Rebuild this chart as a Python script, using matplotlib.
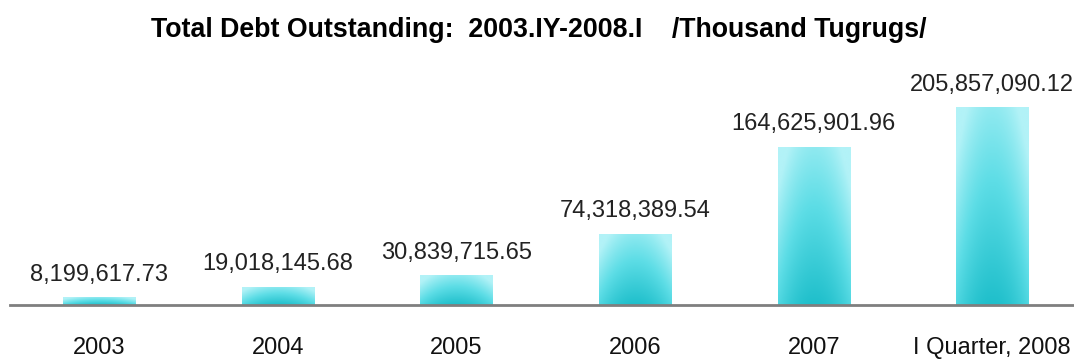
import matplotlib

matplotlib.use("Agg")
import matplotlib.pyplot as plt
import numpy as np
from matplotlib.colors import LinearSegmentedColormap
from matplotlib.patches import Rectangle

periods = ["2003", "2004", "2005", "2006", "2007", "I Quarter, 2008"]
debt = [8199617.73, 19018145.68, 30839715.65, 74318389.54, 164625901.96, 205857090.12]
labels = ["8,199,617.73", "19,018,145.68", "30,839,715.65", "74,318,389.54",
          "164,625,901.96", "205,857,090.12"]

FONT = ["Liberation Sans Narrow", "Liberation Sans", "DejaVu Sans"]
cyan = LinearSegmentedColormap.from_list("cyan", ["#1fbfcb", "#5ddde6", "#b2f2f7"])

fig = plt.figure(figsize=(10.74, 3.61), dpi=100)
ax = fig.add_axes([10 / 1074, 56 / 361, 1064 / 1074, 245 / 361])

width = 0.405
# vertical ramp (light on top) plus a lighter rim at the left/right edges
yy, xx = np.mgrid[0:1:100j, 0:1:60j]
shade = 0.8 * yy + 0.4 * np.abs(xx - 0.5) ** 2 * 4
shade = np.clip(shade, 0, 1)
for i, v in enumerate(debt):
    x0, x1 = i - width / 2, i + width / 2
    im = ax.imshow(shade, cmap=cyan, vmin=0, vmax=1, origin="lower",
                   extent=(x0, x1, 0, v), aspect="auto", interpolation="bilinear",
                   zorder=2)
    clip = Rectangle((x0, 0), width, v, transform=ax.transData)
    im.set_clip_path(clip)
    ax.text(i, v + 12e6, labels[i], ha="center", va="bottom", fontsize=17,
            family=FONT, color="#222222")

ax.set_xlim(-0.5, -0.5 + 1064 / 178.6)
ax.set_ylim(0, 255e6)
for side in ["top", "right", "left"]:
    ax.spines[side].set_visible(False)
ax.spines["bottom"].set_color("#7f7f7f")
ax.spines["bottom"].set_linewidth(2)
ax.set_yticks([])
ax.set_xticks(range(len(periods)))
ax.set_xticklabels(periods, fontsize=17, family=FONT, color="#111111")
ax.tick_params(axis="x", length=0, pad=23)

fig.text(0.502, 0.918, "Total Debt Outstanding:  2003.IY-2008.I    /Thousand Tugrugs/",
         ha="center", va="center", fontsize=19.3, fontweight="bold", family=FONT)

fig.savefig("out.png", dpi=100)
